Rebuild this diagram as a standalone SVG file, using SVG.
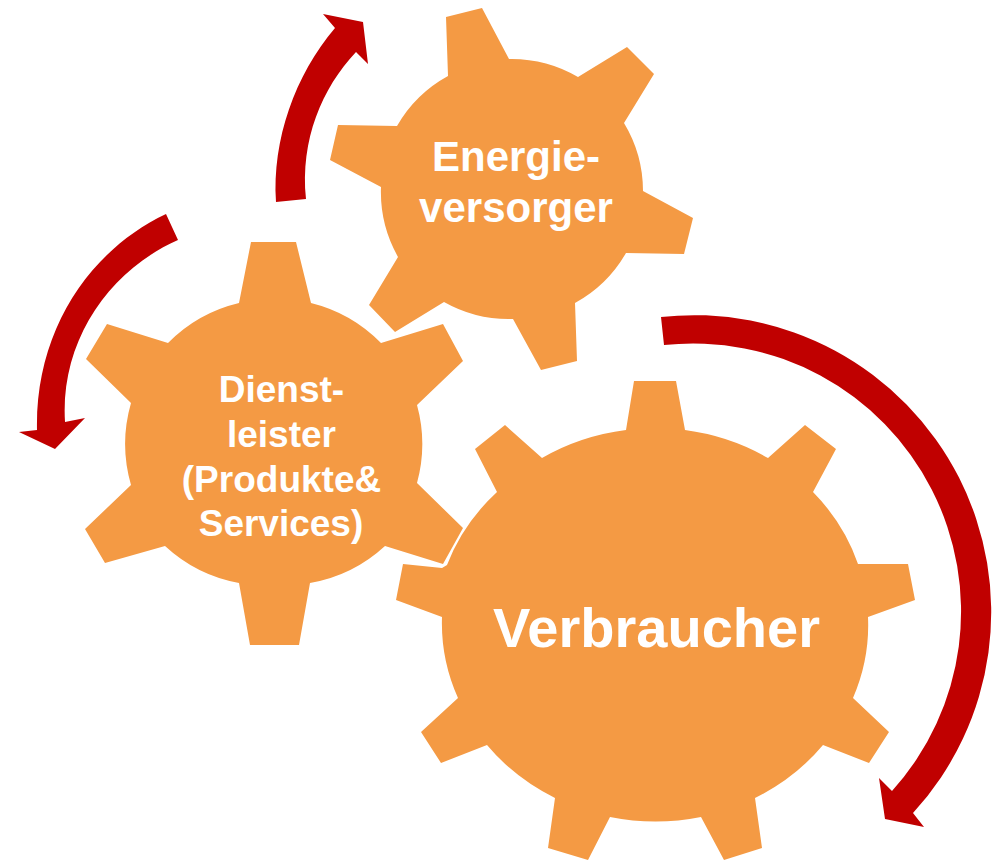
<svg xmlns="http://www.w3.org/2000/svg" width="1000" height="860" viewBox="0 0 1000 860">
<style>
.gear{fill:#f49a44}
.arc{fill:#c00000}
text{font-family:"Liberation Sans",Arial,sans-serif;font-weight:bold;fill:#fff;text-anchor:middle}
.m{font-size:42px}
.s{font-size:37px}
.l{font-size:56px}
</style>
<rect width="1000" height="860" fill="#fff"/>
<g id="connectors">
<path class="arc" d="M276 202C272 140 295 75 335 28L323 14L363 22L368 64L356 52C322 88 300 140 306 199Z"/>
<path class="arc" d="M166 214C90 250 35 330 37 430L19 432L55 449L85 418L65 422C60 340 110 270 178 240Z"/>
<path class="arc" d="M661 317A297 297 0 0 1 913 813L924 827L885 819L879 778L892 791A268 268 0 0 0 664 345Z"/>
</g>
<g id="gear-energie">
<path class="gear" d="M446 17L482 8L509 59A132 132 0 0 1 578 77L627 47L654 74L624 123A132 132 0 0 1 643 191L693 218L684 254L626 253A132 132 0 0 1 575 303L577 361L541 370L513 319A132 132 0 0 1 444 302L395 332L369 305L398 257A132 132 0 0 1 381 187L330 160L338 125L397 126A132 132 0 0 1 448 76Z"/>
</g>
<g id="gear-dienstleister">
<path class="gear" d="M251 242L296 242L311 303A148 148 0 0 1 381 343L443 324L463 361L417 405A148 148 0 0 1 417 483L463 528L443 564L385 546A148 148 0 0 1 310 583L299 645L250 645L239 583A148 148 0 0 1 165 546L105 563L85 529L131 485A148 148 0 0 1 131 403L86 359L107 324L168 343A148 148 0 0 1 239 303Z"/>
</g>
<g id="gear-verbraucher">
<path class="gear" d="M634 381L676 381L685 430A213 196 0 0 1 768 458L805 425L836 449L813 492A213 196 0 0 1 858 564L908 564L915 600L868 617A213 196 0 0 1 853 698L889 732L869 763L823 745A213 196 0 0 1 755 798L762 848L724 860L701 817A213 196 0 0 1 610 817L588 860L548 848L555 798A213 196 0 0 1 487 745L441 763L421 732L458 698A213 196 0 0 1 442 617L396 600L403 564L442 568L447 565A213 196 0 0 1 497 492L475 449L505 425L542 458A213 196 0 0 1 626 430Z"/>
</g>
<g id="labels">
<text class="m" x="516" y="171">Energie-</text>
<text class="m" x="516" y="222">versorger</text>
<text class="s" x="281.5" y="402">Dienst-</text>
<text class="s" x="281.5" y="447">leister</text>
<text class="s" x="281.5" y="492">(Produkte&amp;</text>
<text class="s" x="281" y="536">Services)</text>
<text class="l" x="656.5" y="647">Verbraucher</text>
</g>
</svg>
